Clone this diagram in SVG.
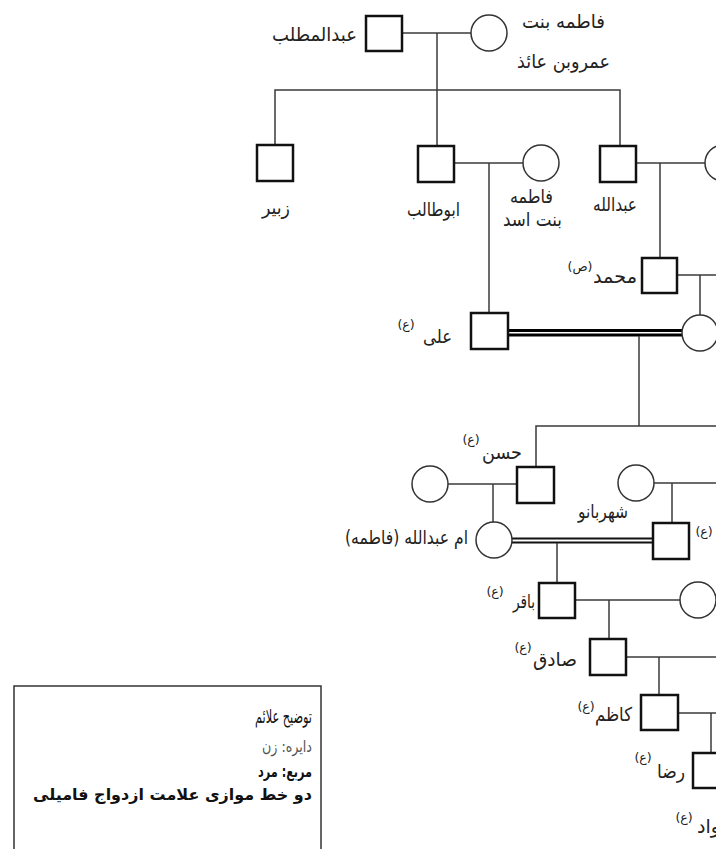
<svg xmlns="http://www.w3.org/2000/svg" width="716" height="849" viewBox="0 0 716 849">
<style>
  .ln{stroke:#3a3a3a;stroke-width:1.5;fill:none}
  .dbl{stroke:#000;stroke-width:3;fill:none}
  .dbl2{stroke:#111;stroke-width:2;fill:none}
  .sq{fill:#fff;stroke:#111;stroke-width:2.5}
  .ci{fill:#fff;stroke:#333;stroke-width:1.5}
  .t{font-family:"DejaVu Sans",sans-serif;font-size:19px;fill:#222;direction:rtl;text-anchor:middle}
  .s{font-family:"DejaVu Sans",sans-serif;font-size:12.5px;fill:#222;direction:rtl;text-anchor:middle}
  .lg{font-family:"DejaVu Sans",sans-serif;fill:#111;direction:rtl;text-anchor:start}
</style>
<rect width="716" height="849" fill="#fff"/>
<g id="connectors">
  <line class="ln" x1="402" y1="33" x2="471" y2="33"/>
  <line class="ln" x1="437" y1="33" x2="437" y2="90"/>
  <polyline class="ln" points="275,145 275,90 620,90 620,146"/>
  <line class="ln" x1="437" y1="90" x2="437" y2="146"/>
  <line class="ln" x1="454" y1="163" x2="523" y2="163"/>
  <line class="ln" x1="489" y1="163" x2="489" y2="313"/>
  <line class="ln" x1="636" y1="163" x2="705" y2="163"/>
  <line class="ln" x1="660" y1="163" x2="660" y2="258"/>
  <line class="ln" x1="677" y1="275" x2="716" y2="275"/>
  <line class="ln" x1="700" y1="275" x2="700" y2="315"/>
  <line class="dbl" x1="508" y1="330.5" x2="683" y2="330.5"/>
  <line class="dbl" x1="508" y1="335" x2="683" y2="335"/>
  <line class="ln" x1="639" y1="336" x2="639" y2="426"/>
  <polyline class="ln" points="536,467 536,426 716,426"/>
  <line class="ln" x1="448" y1="484" x2="517" y2="484"/>
  <line class="ln" x1="493" y1="484" x2="493" y2="522"/>
  <line class="ln" x1="653" y1="483" x2="716" y2="483"/>
  <line class="ln" x1="672" y1="483" x2="672" y2="523"/>
  <line class="dbl2" x1="512" y1="538.5" x2="653" y2="538.5"/>
  <line class="dbl2" x1="512" y1="542.5" x2="653" y2="542.5"/>
  <line class="ln" x1="557" y1="543" x2="557" y2="583"/>
  <line class="ln" x1="575" y1="600" x2="680" y2="600"/>
  <line class="ln" x1="609" y1="600" x2="609" y2="639"/>
  <line class="ln" x1="626" y1="657" x2="716" y2="657"/>
  <line class="ln" x1="659" y1="657" x2="659" y2="695"/>
  <line class="ln" x1="678" y1="713" x2="716" y2="713"/>
  <line class="ln" x1="711" y1="713" x2="711" y2="753"/>
</g>
<g id="abdulmuttalib"><rect class="sq" x="366" y="16" width="36" height="35"/><text class="t" x="314.5" y="41" textLength="85" lengthAdjust="spacingAndGlyphs">عبدالمطلب</text></g>
<g id="fatima-amr"><circle class="ci" cx="489" cy="33" r="18"/><text class="t" x="563.5" y="28" textLength="83" lengthAdjust="spacingAndGlyphs">فاطمه بنت</text><text class="t" x="563.5" y="68" textLength="93" lengthAdjust="spacingAndGlyphs">عمروبن عائذ</text></g>
<g id="zubayr"><rect class="sq" x="257" y="145" width="36" height="36"/><text class="t" x="276" y="214" textLength="28" lengthAdjust="spacingAndGlyphs">زبیر</text></g>
<g id="abutalib"><rect class="sq" x="418" y="146" width="36" height="36"/><text class="t" x="433.5" y="216" textLength="53" lengthAdjust="spacingAndGlyphs">ابوطالب</text></g>
<g id="fatima-asad"><circle class="ci" cx="541" cy="163" r="18"/><text class="t" x="531.5" y="203" textLength="43" lengthAdjust="spacingAndGlyphs">فاطمه</text><text class="t" x="532.5" y="226" textLength="59" lengthAdjust="spacingAndGlyphs">بنت اسد</text></g>
<g id="abdullah"><rect class="sq" x="600" y="146" width="36" height="36"/><text class="t" x="615" y="211" textLength="44" lengthAdjust="spacingAndGlyphs">عبدالله</text></g>
<g id="amina"><circle class="ci" cx="723" cy="163" r="18"/></g>
<g id="muhammad"><rect class="sq" x="642" y="258" width="35" height="35"/><text class="t" x="615" y="283" textLength="44" lengthAdjust="spacingAndGlyphs">محمد</text><text class="s" x="580" y="271">(ص)</text></g>
<g id="ali"><rect class="sq" x="471" y="313" width="37" height="36"/><text class="t" x="437.5" y="343" textLength="29" lengthAdjust="spacingAndGlyphs">علی</text><text class="s" x="406" y="329">(ع)</text></g>
<g id="fatima"><circle class="ci" cx="700" cy="333" r="18"/></g>
<g id="hasan"><rect class="sq" x="517" y="467" width="37" height="36"/><text class="t" x="502" y="459" textLength="40" lengthAdjust="spacingAndGlyphs">حسن</text><text class="s" x="471" y="444">(ع)</text></g>
<g id="hasan-wife"><circle class="ci" cx="430" cy="484" r="18"/></g>
<g id="shahrbanu"><circle class="ci" cx="636" cy="483" r="18"/><text class="t" x="603" y="518" textLength="50" lengthAdjust="spacingAndGlyphs">شهربانو</text></g>
<g id="umm-abdullah"><circle class="ci" cx="494" cy="540" r="18"/><text class="t" x="406.5" y="544" textLength="123" lengthAdjust="spacingAndGlyphs">ام عبدالله (فاطمه)</text></g>
<g id="sajjad"><rect class="sq" x="653" y="523" width="36" height="36"/><text class="s" x="704" y="536">(ع)</text></g>
<g id="baqir"><rect class="sq" x="539" y="583" width="36" height="35"/><text class="t" x="524" y="608" textLength="22" lengthAdjust="spacingAndGlyphs">باقر</text><text class="s" x="495" y="596">(ع)</text></g>
<g id="baqir-wife"><circle class="ci" cx="698" cy="600" r="18"/></g>
<g id="sadiq"><rect class="sq" x="590" y="639" width="36" height="36"/><text class="t" x="555" y="666" textLength="44" lengthAdjust="spacingAndGlyphs">صادق</text><text class="s" x="523" y="652">(ع)</text></g>
<g id="kazim"><rect class="sq" x="641" y="695" width="37" height="35"/><text class="t" x="613.5" y="721" textLength="37" lengthAdjust="spacingAndGlyphs">کاظم</text><text class="s" x="586" y="711">(ع)</text></g>
<g id="rida"><rect class="sq" x="693" y="753" width="36" height="35"/><text class="t" x="671" y="778" textLength="28" lengthAdjust="spacingAndGlyphs">رضا</text><text class="s" x="643" y="762">(ع)</text></g>
<g id="jawad"><text class="t" x="697" y="833" style="text-anchor:end">جواد</text><text class="s" x="684" y="822">(ع)</text></g>
<g id="legend">
  <rect x="14" y="686" width="307" height="170" fill="#fff" stroke="#333" stroke-width="1.5"/>
  <text class="lg" x="312" y="723" font-size="19" textLength="57" lengthAdjust="spacingAndGlyphs">توضیح علائم</text>
  <text class="lg" x="312" y="752" font-size="16" textLength="50" lengthAdjust="spacingAndGlyphs" style="fill:#555">دایره: زن</text>
  <text class="lg" x="312" y="777" font-size="16" font-weight="bold" textLength="54" lengthAdjust="spacingAndGlyphs">مربع: مرد</text>
  <text class="lg" x="312" y="800" font-size="16" font-weight="bold" textLength="279" lengthAdjust="spacingAndGlyphs">دو خط موازی علامت ازدواج فامیلی</text>
</g>
</svg>
